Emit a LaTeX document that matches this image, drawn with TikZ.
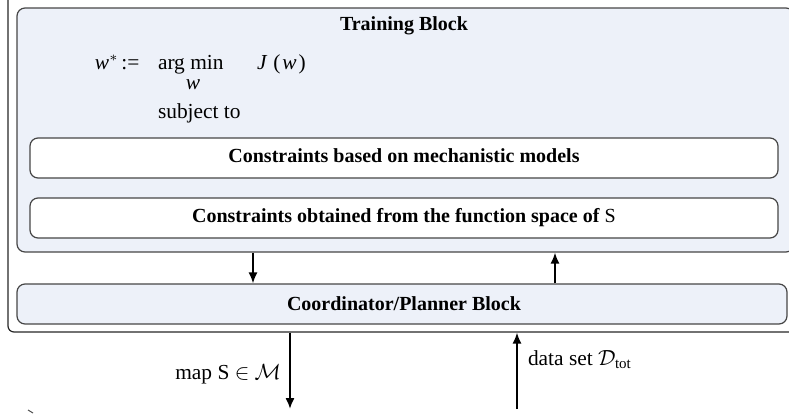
\documentclass[tikz,border=0pt]{standalone}
\usepackage{fontspec}
\setmainfont{Liberation Serif}
\usetikzlibrary{fit,arrows.meta}
\definecolor{blockfill}{RGB}{237,241,249}
\definecolor{blockline}{RGB}{70,70,70}
\tikzset{
  outerbox/.style={draw=black!85, line width=0.6pt, rounded corners=3pt, inner sep=0pt},
  blockbox/.style={draw=blockline, fill=blockfill, line width=0.6pt, rounded corners=4pt, inner sep=0pt},
  consbox/.style={draw=blockline, fill=white, line width=0.6pt, rounded corners=4pt, inner sep=0pt},
  flow/.style={line width=1pt, -{Latex[length=5.5pt,width=4.6pt]}},
  txt/.style={inner sep=0pt, outer sep=0pt},
  boldtxt/.style={txt, font=\bfseries}
}
\begin{document}
\begin{tikzpicture}[x=0.5pt,y=-0.5pt,font=\fontsize{10.7}{12.8}\selectfont]
\useasboundingbox (0,0) rectangle (789,414);
\clip (0,0) rectangle (789,414);
% outer frame (cropped)
\node[outerbox, fit={(8,-20) (812,332)}] (outer) {};
% training block
\node[blockbox, fit={(17,8) (794,252)}] (training) {};
\node[boldtxt, anchor=base] (title) at (404,30) {Training Block};
% formula
\node[txt, anchor=base west] (wstar) at (95,69) {\textit{w}$^{*}$\hspace{1.5pt}:=};
\node[txt, anchor=base west] (argmin) at (158,69) {arg min};
\node[txt, anchor=base] (argw) at (193,89) {\textit{w}};
\node[txt, anchor=base west] (jw) at (257,69) {\textit{J}\hspace{3pt}(\hspace{1pt}\textit{w}\hspace{1pt})};
\node[txt, anchor=base west] (subj) at (158,118) {subject to};
% constraint boxes
\node[consbox, fit={(30,138) (778,178)}] (cons1) {};
\node[boldtxt, anchor=base] (cons1txt) at (404,162) {Constraints based on mechanistic models};
\node[consbox, fit={(30,198) (778,238)}] (cons2) {};
\node[boldtxt, anchor=base] (cons2txt) at (404,222) {Constraints obtained from the function space of \textmd{S}};
% coordinator
\node[blockbox, fit={(17,284) (787,324)}] (coord) {};
\node[boldtxt, anchor=base] (coordtxt) at (404,310) {Coordinator/Planner Block};
% connector coordinates
\coordinate (dA) at (253,0);
\coordinate (uA) at (555,0);
\coordinate (mEnd) at (290,409);
\coordinate (dEnd) at (517,409);
\draw[flow] (training.south -| dA) -- (coord.north -| dA);
\draw[flow] (coord.north -| uA) -- (training.south -| uA);
\draw[flow] (outer.south -| mEnd) -- (mEnd);
\draw[flow] (dEnd) -- (outer.south -| dEnd);
% labels
\node[txt, anchor=base east] (mapLbl) at (281,379) {map S $\in$ $\mathcal{M}$};
\node[txt, anchor=base west] (dataLbl) at (528,365) {data set $\mathcal{D}_{\mathrm{tot}}$};
% stray mark at lower left
\draw[line width=0.5pt, black!70] (28,410) -- (33,413);
\end{tikzpicture}
\end{document}
